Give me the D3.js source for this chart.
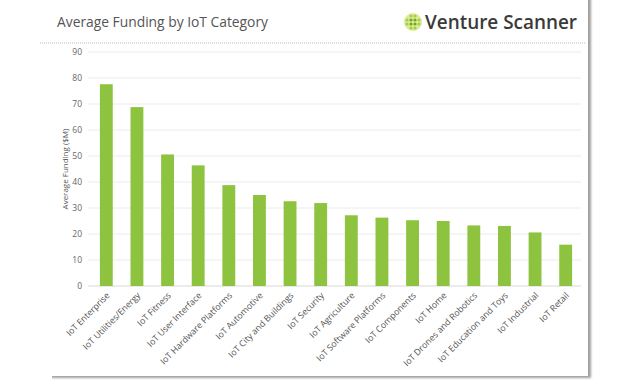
<!DOCTYPE html>
<html>
<head>
<meta charset="utf-8">
<script src="https://cdn.jsdelivr.net/npm/d3@7"></script>
<style>
  body { margin: 0; background: #fff; }
  svg { display: block; font-family: "Open Sans", "DejaVu Sans", sans-serif; }
</style>
</head>
<body>
<svg id="chart" width="640" height="386"></svg>
<script>
// chart data
const categories = [
    'IoT Enterprise', 'IoT Utilities/Energy', 'IoT Fitness', 'IoT User Interface',
    'IoT Hardware Platforms', 'IoT Automotive', 'IoT City and Buildings', 'IoT Security',
    'IoT Agriculture', 'IoT Software Platforms', 'IoT Components', 'IoT Home',
    'IoT Drones and Robotics', 'IoT Education and Toys', 'IoT Industrial', 'IoT Retail'
];
const funding = [77.6, 68.8, 50.6, 46.4, 38.8, 35.0, 32.6, 31.9, 27.2, 26.3, 25.3, 25.0, 23.3, 23.1, 20.6, 15.9];
const yTicks = [0, 10, 20, 30, 40, 50, 60, 70, 80, 90];

const svg = d3.select('#chart');
const margin = { left: 91, right: 59, top: 52, bottom: 100 };
const width = 640;

// card with drop shadow (only right and bottom edges show)
const defs = svg.append('defs');
const f = defs.append('filter').attr('id', 'shadow')
    .attr('x', '-5%').attr('y', '-5%').attr('width', '110%').attr('height', '110%');
f.append('feDropShadow').attr('dx', 3).attr('dy', 2).attr('stdDeviation', 1.3)
    .attr('flood-color', '#888').attr('flood-opacity', 0.8);

svg.append('rect')
    .attr('x', 44).attr('y', -10).attr('width', 544).attr('height', 386)
    .attr('fill', '#fff').attr('filter', 'url(#shadow)');
// hide left edge of the card
svg.append('rect')
    .attr('x', 30).attr('y', -10).attr('width', 22).attr('height', 390)
    .attr('fill', '#fff');

// header
svg.append('text')
    .attr('x', 57).attr('y', 27)
    .attr('font-size', 13.8).attr('fill', '#555')
    .attr('textLength', 211).attr('lengthAdjust', 'spacingAndGlyphs')
    .text('Average Funding by IoT Category');

// logo globe
const globe = svg.append('g').attr('transform', 'translate(413,22)');
globe.append('circle').attr('r', 9).attr('fill', '#d9ec9c');
const dots = [-6, -2, 2, 6];
dots.forEach((dx) => {
    dots.forEach((dy) => {
        if (dx * dx + dy * dy <= 60) {
            globe.append('circle').attr('cx', dx).attr('cy', dy).attr('r', 1.6)
                .attr('fill', (Math.abs(dx) < 4 && Math.abs(dy) < 4) ? '#7aa51e' : '#a9cf3c');
        }
    });
});
svg.append('text')
    .attr('x', 425).attr('y', 29)
    .attr('font-size', 20.5).attr('font-weight', 600).attr('fill', '#3a3a3a')
    .attr('textLength', 152).attr('lengthAdjust', 'spacingAndGlyphs')
    .text('Venture Scanner');

// dotted separator
svg.append('line')
    .attr('x1', 40).attr('x2', 586).attr('y1', 43).attr('y2', 43)
    .attr('stroke', '#bbb').attr('stroke-width', 1).attr('stroke-dasharray', '1,1');

// scales
const x = d3.scaleBand()
    .domain(categories)
    .range([margin.left, width - margin.right])
    .paddingInner(0.58)
    .paddingOuter(0.29);

const y = d3.scaleLinear()
    .domain([0, 90])
    .range([286, 52]);

// grid
svg.append('g')
    .selectAll('line')
    .data(yTicks)
    .join('line')
    .attr('x1', 88).attr('x2', 581)
    .attr('y1', (d) => y(d)).attr('y2', (d) => y(d))
    .attr('stroke', (d) => d === 0 ? '#d8d8d8' : '#ececec')
    .attr('stroke-width', 1);

// y axis
const yAxis = svg.append('g')
    .attr('transform', 'translate(82,0)')
    .call(d3.axisLeft(y).tickValues(yTicks).tickSize(0).tickPadding(0));
yAxis.select('.domain').remove();
yAxis.selectAll('text')
    .attr('font-size', 8.5).attr('fill', '#666')
    .attr('font-family', '"Open Sans", "DejaVu Sans", sans-serif');

svg.append('text')
    .attr('transform', 'translate(68,' + y(45) + ') rotate(-90)')
    .attr('text-anchor', 'middle')
    .attr('font-size', 8).attr('fill', '#555')
    .text('Average Funding ($M)');

// bars
svg.append('g')
    .selectAll('rect')
    .data(funding)
    .join('rect')
    .attr('x', (d, i) => x(categories[i]))
    .attr('width', x.bandwidth())
    .attr('y', (d) => y(d))
    .attr('height', (d) => y(0) - y(d))
    .attr('fill', '#8dc33f');

// x axis labels
const xAxis = svg.append('g')
    .attr('transform', 'translate(0,' + y(0) + ')')
    .call(d3.axisBottom(x).tickSize(0).tickPadding(0));
xAxis.select('.domain').remove();
xAxis.selectAll('text')
    .attr('font-size', 8.8).attr('fill', '#555')
    .attr('font-family', '"Open Sans", "DejaVu Sans", sans-serif')
    .attr('text-anchor', 'end')
    .attr('dy', 0)
    .attr('transform', 'translate(4,10) rotate(-45)');
</script>
</body>
</html>
